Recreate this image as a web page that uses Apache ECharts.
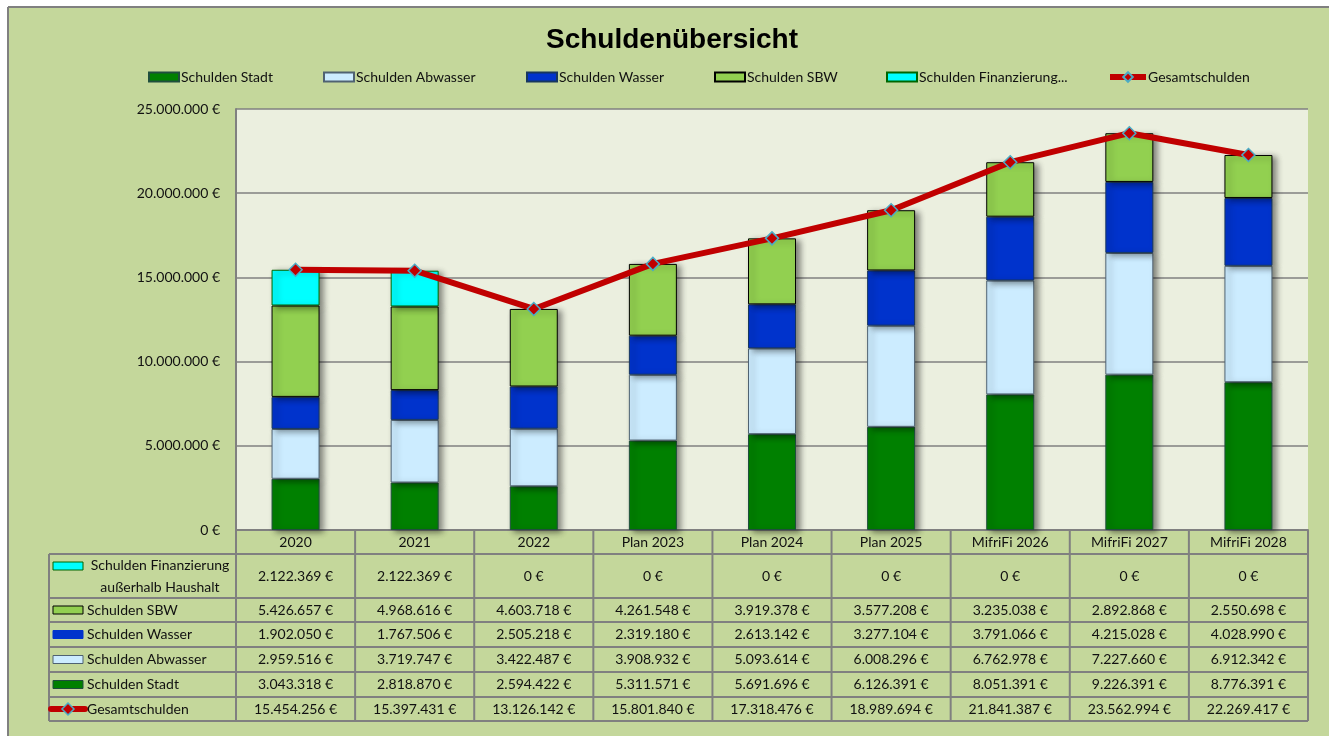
<!DOCTYPE html>
<html>
<head>
<meta charset="utf-8">
<title>Schuldenübersicht</title>
<script src="https://cdn.jsdelivr.net/npm/echarts@6/dist/echarts.min.js"></script>
<style>
  html, body { margin: 0; padding: 0; background: #fff; }
  #chart { width: 1329px; height: 736px; }
</style>
</head>
<body>
<div id="chart"></div>
<script>
// Daten
const categories = ['2020', '2021', '2022', 'Plan 2023', 'Plan 2024', 'Plan 2025', 'MifriFi 2026', 'MifriFi 2027', 'MifriFi 2028'];
const schuldenStadt = [3043318, 2818870, 2594422, 5311571, 5691696, 6126391, 8051391, 9226391, 8776391];
const schuldenAbwasser = [2959516, 3719747, 3422487, 3908932, 5093614, 6008296, 6762978, 7227660, 6912342];
const schuldenWasser = [1902050, 1767506, 2505218, 2319180, 2613142, 3277104, 3791066, 4215028, 4028990];
const schuldenSBW = [5426657, 4968616, 4603718, 4261548, 3919378, 3577208, 3235038, 2892868, 2550698];
const schuldenFinanzierung = [2122369, 2122369, 0, 0, 0, 0, 0, 0, 0];
const gesamtschulden = [15454256, 15397431, 13126142, 15801840, 17318476, 18989694, 21841387, 23562994, 22269417];
const yTicks = [0, 5000000, 10000000, 15000000, 20000000, 25000000];

const FONT = 'Lato';
const GRAY = '#808080';

// Zahlen im deutschen Format
const fmt = v => String(Math.round(v)).replace(/\B(?=(\d{3})+(?!\d))/g, '.') + ' €';

const chart = echarts.init(document.getElementById('chart'));

// Layout der Tabelle unter dem Diagramm
const gridLeft = 236, gridRight = 1308, gridTop = 109, gridBottom = 530;
const tableLeft = 49;
const rowEdges = [554, 598, 622, 647, 672, 697, 721];
const colWidth = (gridRight - gridLeft) / categories.length;

const rows = [
    { name: 'Schulden Finanzierung außerhalb Haushalt', label: 'Schulden Finanzierung\naußerhalb Haushalt', values: schuldenFinanzierung, fill: '#00FFFF', stroke: '#006600' },
    { name: 'Schulden SBW', label: 'Schulden SBW', values: schuldenSBW, fill: '#92D050', stroke: '#000000' },
    { name: 'Schulden Wasser', label: 'Schulden Wasser', values: schuldenWasser, fill: '#0033CC', stroke: '#0033CC' },
    { name: 'Schulden Abwasser', label: 'Schulden Abwasser', values: schuldenAbwasser, fill: '#CCECFF', stroke: '#4F6272' },
    { name: 'Schulden Stadt', label: 'Schulden Stadt', values: schuldenStadt, fill: '#008000', stroke: '#1F4E3D' },
    { name: 'Gesamtschulden', label: 'Gesamtschulden', values: gesamtschulden, line: true }
];

function buildTable() {
    const els = [];
    const line = (x1, y1, x2, y2) => els.push({
        type: 'line', shape: { x1, y1, x2, y2 },
        style: { stroke: GRAY, lineWidth: 2 }, silent: true
    });
    // horizontale Linien
    line(gridLeft, gridBottom, gridRight, gridBottom);
    rowEdges.forEach(y => line(tableLeft, y, gridRight, y));
    // vertikale Linien
    line(tableLeft, rowEdges[0], tableLeft, rowEdges[rowEdges.length - 1]);
    for (let i = 0; i <= categories.length; i++) {
        const x = gridLeft + colWidth * i;
        line(x, gridBottom, x, rowEdges[rowEdges.length - 1]);
    }
    rows.forEach((row, r) => {
        const top = rowEdges[r], bottom = rowEdges[r + 1];
        const cy = (top + bottom) / 2;
        const iconY = r === 0 ? top + 12 : cy;
        // Symbol
        if (row.line) {
            els.push({ type: 'line', shape: { x1: 51, y1: iconY, x2: 85, y2: iconY },
                style: { stroke: '#C00000', lineWidth: 6, lineCap: 'round' }, silent: true });
            els.push({ type: 'polygon', shape: { points: [[68, iconY - 6], [74, iconY], [68, iconY + 6], [62, iconY]] },
                style: { fill: '#C00000', stroke: '#4BACC6', lineWidth: 1.5 }, silent: true });
        } else {
            els.push({ type: 'rect', shape: { x: 53, y: iconY - 4, width: 30, height: 8 },
                style: { fill: row.fill, stroke: row.stroke, lineWidth: 1 }, silent: true });
        }
        // Beschriftung
        if (r === 0) {
            els.push({ type: 'text', x: 160, y: cy, silent: true,
                style: { text: row.label, fontFamily: FONT, fontSize: 14, fill: '#111', align: 'center', verticalAlign: 'middle', lineHeight: 22 } });
        } else {
            els.push({ type: 'text', x: 87, y: cy, silent: true,
                style: { text: row.label, fontFamily: FONT, fontSize: 14, fill: '#111', align: 'left', verticalAlign: 'middle' } });
        }
        // Werte
        row.values.forEach((v, i) => {
            els.push({ type: 'text', x: gridLeft + colWidth * (i + 0.5), y: cy, silent: true,
                style: { text: fmt(v), fontFamily: FONT, fontSize: 14, fill: '#111', align: 'center', verticalAlign: 'middle' } });
        });
    });
    return els;
}

// Rahmen des Diagrammbereichs
const frame = [
    { type: 'rect', shape: { x: 0, y: 0, width: 1329, height: 7 }, style: { fill: '#fff' }, silent: true },
    { type: 'rect', shape: { x: 0, y: 0, width: 8, height: 736 }, style: { fill: '#fff' }, silent: true },
    { type: 'line', shape: { x1: 8, y1: 7, x2: 1329, y2: 7 }, style: { stroke: GRAY, lineWidth: 2 }, silent: true },
    { type: 'line', shape: { x1: 8, y1: 7, x2: 8, y2: 736 }, style: { stroke: GRAY, lineWidth: 2 }, silent: true }
];

const barShadow = { shadowBlur: 6, shadowOffsetX: 4, shadowOffsetY: 2, shadowColor: 'rgba(0, 0, 0, 0.45)' };
const barSeries = (name, data, color, border) => ({
    name, type: 'bar', stack: 'schulden', barWidth: 48,
    data: data.map(v => v || null),
    itemStyle: Object.assign({ color, borderColor: border, borderWidth: 1 }, barShadow),
    emphasis: { disabled: true }
});

const legendNames = ['Schulden Stadt', 'Schulden Abwasser', 'Schulden Wasser', 'Schulden SBW', 'Schulden Finanzierung außerhalb Haushalt', 'Gesamtschulden'];
const legendLeft = [143, 318, 521, 709, 881, 1102];

const option = {
    backgroundColor: '#C4D79B',
    animation: false,
    title: {
        text: 'Schuldenübersicht',
        left: 541, top: 21,
        textStyle: { fontFamily: 'Liberation Sans', fontWeight: 'bold', fontSize: 28, color: '#000' }
    },
    legend: legendNames.map((n, i) => ({
        data: [n],
        left: legendLeft[i], top: 65,
        icon: i === 5 ? undefined : 'rect',
        itemWidth: i === 5 ? 36 : 30, itemHeight: i === 5 ? 12 : 9,
        selectedMode: false,
        lineStyle: i === 5 ? { width: 6 } : undefined,
        formatter: name => name.length > 25 ? 'Schulden Finanzierung...' : name,
        textStyle: { fontFamily: FONT, fontSize: 14, color: '#111', padding: [0, 0, 0, -3] }
    })),
    grid: {
        left: gridLeft, right: 1329 - gridRight, top: gridTop, bottom: 736 - gridBottom,
        show: true, backgroundColor: '#EBEFDF', borderWidth: 0
    },
    xAxis: {
        type: 'category',
        data: categories,
        axisLine: { lineStyle: { color: GRAY, width: 2 } },
        axisTick: { show: false },
        axisLabel: { fontFamily: FONT, fontSize: 14, color: '#111', margin: 5, interval: 0 }
    },
    yAxis: {
        type: 'value',
        min: yTicks[0], max: yTicks[yTicks.length - 1], interval: yTicks[1] - yTicks[0],
        axisLine: { show: true, lineStyle: { color: GRAY, width: 2 } },
        axisTick: { show: false },
        splitLine: { lineStyle: { color: GRAY, width: 1.5 } },
        axisLabel: { fontFamily: FONT, fontSize: 14, color: '#111', margin: 16, formatter: fmt }
    },
    series: [
        barSeries('Schulden Stadt', schuldenStadt, '#008000', '#1F4E3D'),
        barSeries('Schulden Abwasser', schuldenAbwasser, '#CCECFF', '#4F6272'),
        barSeries('Schulden Wasser', schuldenWasser, '#0033CC', '#17375E'),
        barSeries('Schulden SBW', schuldenSBW, '#92D050', '#000000'),
        barSeries('Schulden Finanzierung außerhalb Haushalt', schuldenFinanzierung, '#00FFFF', '#006600'),
        {
            name: 'Gesamtschulden', type: 'line', data: gesamtschulden, z: 5,
            symbol: 'diamond', symbolSize: 13,
            lineStyle: { color: '#C00000', width: 6 },
            itemStyle: { color: '#C00000', borderColor: '#4BACC6', borderWidth: 1.5 },
            emphasis: { disabled: true }
        }
    ],
    graphic: frame.concat(buildTable())
};

chart.setOption(option);
</script>
</body>
</html>
